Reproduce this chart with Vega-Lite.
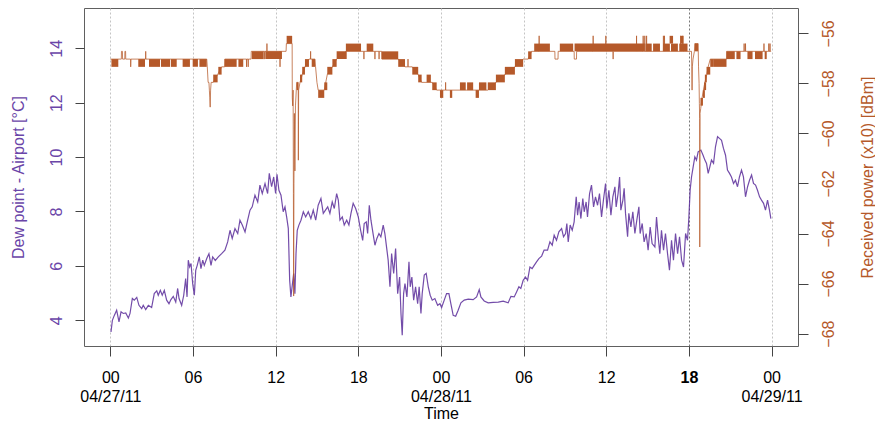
{
  "$schema": "https://vega.github.io/schema/vega-lite/v6.json",
  "width": 714,
  "height": 338,
  "autosize": {"type": "none"},
  "padding": {"left": 84, "top": 8, "right": 77, "bottom": 75},
  "background": "white",
  "config": {
    "font": "Liberation Sans",
    "view": {"stroke": "#606060", "strokeWidth": 1}
  },
  "datasets": {
    "dew": [
      {"h":0.05,"d":3.57},{"h":0.15,"d":4.0},{"h":0.29,"d":4.18},{"h":0.46,"d":4.37},{"h":0.63,"d":3.94},{"h":0.78,"d":4.31},{"h":0.94,"d":4.25},{"h":1.12,"d":4.27},{"h":1.31,"d":4.08},{"h":1.43,"d":4.25},
      {"h":1.6,"d":4.8},{"h":1.74,"d":4.74},{"h":1.92,"d":4.84},{"h":2.08,"d":4.55},{"h":2.28,"d":4.43},{"h":2.39,"d":4.55},{"h":2.57,"d":4.39},{"h":2.76,"d":4.55},{"h":3.0,"d":4.47},{"h":3.19,"d":4.98},
      {"h":3.37,"d":5.08},{"h":3.48,"d":4.92},{"h":3.63,"d":5.1},{"h":3.77,"d":4.92},{"h":3.92,"d":5.1},{"h":4.09,"d":4.74},{"h":4.26,"d":4.61},{"h":4.4,"d":4.76},{"h":4.57,"d":4.88},{"h":4.75,"d":4.67},
      {"h":4.89,"d":5.17},{"h":4.99,"d":4.8},{"h":5.18,"d":4.55},{"h":5.33,"d":4.92},{"h":5.47,"d":5.53},{"h":5.57,"d":4.86},{"h":5.66,"d":6.21},{"h":5.76,"d":5.96},{"h":5.86,"d":6.09},{"h":5.98,"d":5.35},
      {"h":6.1,"d":4.92},{"h":6.2,"d":5.84},{"h":6.31,"d":6.02},{"h":6.46,"d":6.33},{"h":6.58,"d":5.9},{"h":6.71,"d":6.21},{"h":6.82,"d":6.02},{"h":7.0,"d":6.27},{"h":7.16,"d":6.45},{"h":7.31,"d":6.02},
      {"h":7.43,"d":6.33},{"h":7.62,"d":6.2},{"h":7.84,"d":6.33},{"h":8.08,"d":6.45},{"h":8.32,"d":6.58},{"h":8.52,"d":6.88},{"h":8.69,"d":7.31},{"h":8.85,"d":7.01},{"h":9.05,"d":7.37},{"h":9.25,"d":7.19},
      {"h":9.41,"d":7.68},{"h":9.58,"d":7.5},{"h":9.78,"d":7.25},{"h":9.97,"d":7.68},{"h":10.14,"d":8.05},{"h":10.3,"d":8.17},{"h":10.5,"d":8.6},{"h":10.7,"d":8.35},{"h":10.86,"d":8.97},{"h":11.03,"d":8.66},
      {"h":11.23,"d":9.03},{"h":11.42,"d":8.66},{"h":11.54,"d":9.4},{"h":11.71,"d":8.91},{"h":11.86,"d":9.27},{"h":12.0,"d":8.66},{"h":12.1,"d":9.37},{"h":12.24,"d":8.78},{"h":12.39,"d":8.6},{"h":12.55,"d":7.99},
      {"h":12.68,"d":8.17},{"h":12.8,"d":7.8},{"h":12.92,"d":7.38},{"h":13.02,"d":5.47},{"h":13.11,"d":4.86},{"h":13.21,"d":5.29},{"h":13.31,"d":5.72},{"h":13.4,"d":4.98},{"h":13.48,"d":6.45},{"h":13.57,"d":7.31},
      {"h":13.69,"d":7.5},{"h":13.84,"d":7.68},{"h":14.01,"d":7.99},{"h":14.18,"d":7.8},{"h":14.37,"d":7.99},{"h":14.56,"d":7.74},{"h":14.73,"d":8.05},{"h":14.91,"d":7.68},{"h":15.09,"d":8.23},{"h":15.29,"d":8.48},
      {"h":15.46,"d":7.93},{"h":15.78,"d":8.17},{"h":15.94,"d":7.93},{"h":16.11,"d":8.35},{"h":16.26,"d":8.11},{"h":16.43,"d":8.66},{"h":16.55,"d":8.42},{"h":16.67,"d":7.68},{"h":16.84,"d":7.8},{"h":16.98,"d":7.5},
      {"h":17.16,"d":7.68},{"h":17.32,"d":7.5},{"h":17.47,"d":7.93},{"h":17.63,"d":8.3},{"h":17.81,"d":8.11},{"h":18.0,"d":7.8},{"h":18.17,"d":7.31},{"h":18.32,"d":6.94},{"h":18.43,"d":7.56},{"h":18.58,"d":7.62},
      {"h":18.68,"d":7.19},{"h":18.8,"d":8.23},{"h":18.92,"d":7.68},{"h":19.09,"d":7.13},{"h":19.21,"d":6.76},{"h":19.35,"d":7.01},{"h":19.5,"d":7.19},{"h":19.64,"d":7.07},{"h":19.81,"d":7.5},{"h":19.93,"d":7.19},
      {"h":20.08,"d":6.58},{"h":20.17,"d":6.21},{"h":20.3,"d":5.23},{"h":20.42,"d":6.45},{"h":20.57,"d":5.72},{"h":20.71,"d":6.64},{"h":20.86,"d":4.98},{"h":21.0,"d":5.59},{"h":21.1,"d":4.25},{"h":21.19,"d":3.45},
      {"h":21.29,"d":4.98},{"h":21.39,"d":5.35},{"h":21.53,"d":4.86},{"h":21.68,"d":6.15},{"h":21.77,"d":5.23},{"h":21.89,"d":5.59},{"h":22.02,"d":4.74},{"h":22.16,"d":5.23},{"h":22.31,"d":4.61},{"h":22.42,"d":5.23},
      {"h":22.55,"d":4.25},{"h":22.64,"d":4.98},{"h":22.79,"d":5.66},{"h":22.93,"d":5.72},{"h":23.08,"d":5.23},{"h":23.22,"d":4.92},{"h":23.37,"d":4.74},{"h":23.56,"d":4.8},{"h":23.76,"d":4.55},{"h":23.93,"d":4.61},
      {"h":24.05,"d":4.47},{"h":24.24,"d":4.74},{"h":24.41,"d":4.98},{"h":24.58,"d":4.98},{"h":24.72,"d":4.61},{"h":24.89,"d":4.18},{"h":25.07,"d":4.15},{"h":25.25,"d":4.37},{"h":25.45,"d":4.64},{"h":25.69,"d":4.74},
      {"h":25.98,"d":4.78},{"h":26.34,"d":4.76},{"h":26.59,"d":4.86},{"h":26.78,"d":5.13},{"h":26.9,"d":4.86},{"h":27.14,"d":4.71},{"h":27.43,"d":4.64},{"h":27.79,"d":4.66},{"h":28.16,"d":4.67},{"h":28.52,"d":4.7},
      {"h":28.88,"d":4.64},{"h":29.08,"d":4.88},{"h":29.32,"d":4.86},{"h":29.49,"d":5.04},{"h":29.66,"d":5.23},{"h":29.8,"d":5.17},{"h":29.97,"d":5.47},{"h":30.14,"d":5.59},{"h":30.29,"d":5.47},{"h":30.46,"d":5.96},
      {"h":30.62,"d":5.9},{"h":30.77,"d":6.02},{"h":30.94,"d":6.15},{"h":31.11,"d":6.27},{"h":31.31,"d":6.36},{"h":31.49,"d":6.58},{"h":31.74,"d":6.58},{"h":31.91,"d":6.88},{"h":32.08,"d":6.76},{"h":32.22,"d":7.13},
      {"h":32.39,"d":6.94},{"h":32.56,"d":7.25},{"h":32.76,"d":7.37},{"h":32.9,"d":7.07},{"h":33.05,"d":7.19},{"h":33.14,"d":7.56},{"h":33.24,"d":6.88},{"h":33.38,"d":7.5},{"h":33.53,"d":7.31},{"h":33.67,"d":7.62},
      {"h":33.82,"d":8.54},{"h":33.92,"d":7.86},{"h":34.03,"d":8.35},{"h":34.16,"d":7.74},{"h":34.3,"d":8.48},{"h":34.4,"d":7.99},{"h":34.54,"d":8.35},{"h":34.64,"d":7.8},{"h":34.79,"d":8.66},{"h":34.93,"d":8.97},
      {"h":35.08,"d":8.17},{"h":35.22,"d":8.54},{"h":35.37,"d":8.23},{"h":35.51,"d":8.66},{"h":35.66,"d":7.8},{"h":35.81,"d":8.48},{"h":35.95,"d":9.03},{"h":36.04,"d":8.11},{"h":36.19,"d":8.78},{"h":36.34,"d":7.86},
      {"h":36.48,"d":8.54},{"h":36.63,"d":8.91},{"h":36.72,"d":8.17},{"h":36.86,"d":8.66},{"h":36.97,"d":9.27},{"h":37.06,"d":8.05},{"h":37.21,"d":8.42},{"h":37.3,"d":8.85},{"h":37.4,"d":7.93},{"h":37.55,"d":7.07},
      {"h":37.64,"d":7.93},{"h":37.79,"d":7.43},{"h":37.93,"d":7.99},{"h":38.08,"d":7.19},{"h":38.22,"d":7.68},{"h":38.37,"d":8.17},{"h":38.46,"d":7.19},{"h":38.61,"d":7.56},{"h":38.75,"d":6.88},{"h":38.9,"d":7.19},
      {"h":39.04,"d":6.58},{"h":39.19,"d":7.43},{"h":39.33,"d":6.82},{"h":39.53,"d":6.7},{"h":39.65,"d":7.8},{"h":39.77,"d":7.07},{"h":39.89,"d":6.45},{"h":40.01,"d":7.31},{"h":40.16,"d":6.58},{"h":40.3,"d":7.19},
      {"h":40.45,"d":6.45},{"h":40.59,"d":5.84},{"h":40.74,"d":6.94},{"h":40.88,"d":6.21},{"h":41.03,"d":7.19},{"h":41.18,"d":6.45},{"h":41.32,"d":7.07},{"h":41.47,"d":6.21},{"h":41.61,"d":5.96},{"h":41.76,"d":7.19},
      {"h":41.9,"d":6.94},{"h":42.0,"d":7.8},{"h":42.09,"d":8.78},{"h":42.19,"d":9.27},{"h":42.31,"d":9.64},{"h":42.43,"d":10.01},{"h":42.55,"d":9.89},{"h":42.67,"d":10.19},{"h":42.87,"d":10.26},{"h":43.03,"d":10.07},
      {"h":43.16,"d":9.89},{"h":43.28,"d":9.77},{"h":43.4,"d":9.4},{"h":43.52,"d":9.64},{"h":43.64,"d":9.89},{"h":43.79,"d":9.77},{"h":43.93,"d":10.38},{"h":44.08,"d":10.75},{"h":44.22,"d":10.69},{"h":44.37,"d":10.62},
      {"h":44.51,"d":10.32},{"h":44.66,"d":10.07},{"h":44.8,"d":9.52},{"h":44.95,"d":9.4},{"h":45.09,"d":9.27},{"h":45.24,"d":9.03},{"h":45.38,"d":9.15},{"h":45.53,"d":8.91},{"h":45.67,"d":9.27},{"h":45.82,"d":9.52},
      {"h":45.96,"d":9.27},{"h":46.11,"d":8.54},{"h":46.26,"d":8.91},{"h":46.4,"d":9.15},{"h":46.55,"d":9.34},{"h":46.69,"d":9.03},{"h":46.84,"d":8.97},{"h":46.98,"d":8.78},{"h":47.13,"d":8.54},{"h":47.27,"d":8.42},
      {"h":47.42,"d":8.3},{"h":47.56,"d":8.05},{"h":47.71,"d":8.42},{"h":47.85,"d":8.05},{"h":47.95,"d":7.74}
    ],
    "pw": [
      {"h":0.0,"p":-57.03},{"h":0.8,"p":-57.03},{"h":0.81,"p":-56.72},{"h":0.88,"p":-56.72},{"h":0.89,"p":-57.03},{"h":1.05,"p":-57.03},{"h":1.06,"p":-56.72},{"h":1.11,"p":-56.72},{"h":1.12,"p":-57.03},{"h":1.47,"p":-57.03},
      {"h":1.48,"p":-57.34},{"h":1.5,"p":-57.03},{"h":2.56,"p":-57.03},{"h":2.57,"p":-56.72},{"h":2.58,"p":-57.03},{"h":7.0,"p":-57.03},{"h":7.04,"p":-57.34},{"h":7.1,"p":-57.96},{"h":7.16,"p":-57.96},{"h":7.19,"p":-58.27},
      {"h":7.22,"p":-58.58},{"h":7.25,"p":-58.95},{"h":7.28,"p":-58.27},{"h":7.32,"p":-57.96},{"h":7.47,"p":-57.96},{"h":7.79,"p":-57.65},{"h":8.08,"p":-57.34},{"h":8.3,"p":-57.34},{"h":8.31,"p":-57.03},{"h":9.88,"p":-57.03},
      {"h":9.89,"p":-57.34},{"h":9.9,"p":-57.03},{"h":10.0,"p":-57.03},{"h":10.01,"p":-57.34},{"h":10.02,"p":-57.03},{"h":10.22,"p":-57.03},{"h":10.23,"p":-56.72},{"h":11.17,"p":-56.72},{"h":11.18,"p":-57.03},{"h":11.2,"p":-56.72},
      {"h":11.36,"p":-56.72},{"h":11.37,"p":-56.41},{"h":11.38,"p":-56.72},{"h":12.31,"p":-56.72},{"h":12.32,"p":-57.34},{"h":12.33,"p":-56.72},{"h":12.76,"p":-56.72},{"h":12.78,"p":-56.41},{"h":13.2,"p":-56.41},{"h":13.21,"p":-58.58},
      {"h":13.24,"p":-58.9},{"h":13.27,"p":-58.27},{"h":13.29,"p":-62.4},{"h":13.31,"p":-66.5},{"h":13.33,"p":-62.0},{"h":13.36,"p":-59.2},{"h":13.4,"p":-61.5},{"h":13.44,"p":-58.9},{"h":13.5,"p":-58.27},{"h":13.53,"p":-57.96},
      {"h":13.64,"p":-57.96},{"h":13.65,"p":-61.07},{"h":13.67,"p":-58.27},{"h":13.77,"p":-57.96},{"h":13.93,"p":-57.65},{"h":14.13,"p":-57.34},{"h":14.42,"p":-57.03},{"h":14.53,"p":-57.03},{"h":14.54,"p":-56.72},{"h":14.55,"p":-57.03},
      {"h":14.86,"p":-57.03},{"h":14.9,"p":-57.34},{"h":15.0,"p":-57.96},{"h":15.09,"p":-58.27},{"h":15.53,"p":-58.27},{"h":15.75,"p":-57.65},{"h":16.12,"p":-57.34},{"h":16.43,"p":-57.03},{"h":17.1,"p":-56.72},{"h":18.4,"p":-56.72},
      {"h":18.41,"p":-57.03},{"h":18.42,"p":-56.72},{"h":19.2,"p":-56.72},{"h":19.21,"p":-57.03},{"h":19.22,"p":-56.72},{"h":19.5,"p":-56.72},{"h":19.51,"p":-57.03},{"h":19.52,"p":-56.72},{"h":19.7,"p":-56.72},{"h":19.71,"p":-57.03},
      {"h":20.9,"p":-57.03},{"h":21.39,"p":-57.34},{"h":21.6,"p":-57.34},{"h":21.61,"p":-57.03},{"h":21.62,"p":-57.34},{"h":21.92,"p":-57.34},{"h":22.35,"p":-57.65},{"h":22.6,"p":-57.96},{"h":23.37,"p":-57.96},{"h":23.69,"p":-58.27},
      {"h":24.33,"p":-58.27},{"h":24.34,"p":-57.96},{"h":24.35,"p":-58.27},{"h":27.4,"p":-58.27},{"h":27.99,"p":-57.96},{"h":28.64,"p":-57.65},{"h":29.37,"p":-57.34},{"h":29.97,"p":-57.03},{"h":30.33,"p":-57.03},{"h":30.58,"p":-56.72},
      {"h":31.12,"p":-56.72},{"h":31.13,"p":-56.1},{"h":31.14,"p":-56.72},{"h":32.27,"p":-56.72},{"h":32.28,"p":-57.03},{"h":32.5,"p":-57.03},{"h":32.51,"p":-56.72},{"h":33.67,"p":-56.72},{"h":33.68,"p":-57.03},{"h":33.84,"p":-57.03},
      {"h":33.85,"p":-56.72},{"h":35.04,"p":-56.72},{"h":35.05,"p":-56.1},{"h":35.06,"p":-56.72},{"h":35.96,"p":-56.72},{"h":35.97,"p":-56.1},{"h":35.98,"p":-56.72},{"h":36.49,"p":-56.72},{"h":36.5,"p":-57.03},{"h":36.51,"p":-56.72},
      {"h":38.19,"p":-56.72},{"h":38.2,"p":-56.1},{"h":38.21,"p":-56.72},{"h":38.67,"p":-56.72},{"h":38.68,"p":-56.1},{"h":38.7,"p":-56.72},{"h":38.79,"p":-56.72},{"h":38.8,"p":-56.1},{"h":38.81,"p":-56.72},{"h":38.92,"p":-56.72},
      {"h":38.93,"p":-56.1},{"h":38.94,"p":-56.72},{"h":40.14,"p":-56.72},{"h":40.15,"p":-56.1},{"h":40.16,"p":-56.72},{"h":40.22,"p":-56.72},{"h":40.23,"p":-56.1},{"h":40.24,"p":-56.72},{"h":41.39,"p":-56.72},{"h":41.4,"p":-56.1},
      {"h":41.41,"p":-56.72},{"h":41.55,"p":-56.72},{"h":41.56,"p":-56.1},{"h":41.57,"p":-56.72},{"h":42.19,"p":-56.72},{"h":42.21,"p":-57.34},{"h":42.23,"p":-58.27},{"h":42.25,"p":-57.34},{"h":42.3,"p":-57.03},{"h":42.4,"p":-56.72},
      {"h":42.43,"p":-56.41},{"h":42.67,"p":-56.41},{"h":42.7,"p":-57.34},{"h":42.74,"p":-58.0},{"h":42.76,"p":-58.8},{"h":42.78,"p":-59.4},{"h":42.79,"p":-64.54},{"h":42.81,"p":-59.2},{"h":42.86,"p":-59.0},{"h":42.95,"p":-58.6},
      {"h":43.05,"p":-58.27},{"h":43.16,"p":-57.96},{"h":43.3,"p":-57.65},{"h":43.4,"p":-57.34},{"h":43.55,"p":-57.03},{"h":44.73,"p":-57.03},{"h":44.74,"p":-56.72},{"h":46.0,"p":-56.72},{"h":46.01,"p":-56.41},{"h":46.02,"p":-56.72},
      {"h":46.1,"p":-56.72},{"h":46.11,"p":-56.41},{"h":46.12,"p":-56.72},{"h":47.44,"p":-56.72},{"h":47.45,"p":-56.41},{"h":47.46,"p":-56.72},{"h":47.79,"p":-56.72},{"h":47.8,"p":-56.41},{"h":47.81,"p":-56.72},{"h":47.88,"p":-56.72},
      {"h":47.89,"p":-56.41},{"h":47.9,"p":-56.72},{"h":47.97,"p":-56.72}
    ],
    "blk": [
      {"h0":0.08,"h1":0.58,"p0":-57.03,"p1":-57.34},{"h0":2.03,"h1":2.52,"p0":-57.03,"p1":-57.34},{"h0":2.81,"h1":3.61,"p0":-57.03,"p1":-57.34},{"h0":3.68,"h1":4.34,"p0":-57.03,"p1":-57.34},
      {"h0":4.4,"h1":4.82,"p0":-57.03,"p1":-57.34},{"h0":5.25,"h1":5.78,"p0":-57.03,"p1":-57.34},{"h0":5.98,"h1":6.36,"p0":-57.03,"p1":-57.34},{"h0":6.47,"h1":7.0,"p0":-57.03,"p1":-57.34},
      {"h0":7.47,"h1":7.79,"p0":-57.65,"p1":-57.96},{"h0":7.84,"h1":8.08,"p0":-57.34,"p1":-57.65},
      {"h0":8.3,"h1":9.17,"p0":-57.03,"p1":-57.34},{"h0":9.3,"h1":9.65,"p0":-57.03,"p1":-57.34},
      {"h0":10.28,"h1":11.13,"p0":-56.72,"p1":-57.03},{"h0":11.25,"h1":12.46,"p0":-56.72,"p1":-57.03},
      {"h0":12.8,"h1":13.2,"p0":-56.1,"p1":-56.41},
      {"h0":13.53,"h1":13.64,"p0":-57.96,"p1":-58.27},{"h0":13.77,"h1":13.93,"p0":-57.65,"p1":-57.96},{"h0":13.93,"h1":14.13,"p0":-57.34,"p1":-57.65},{"h0":14.13,"h1":14.42,"p0":-57.03,"p1":-57.34},{"h0":14.62,"h1":14.86,"p0":-57.03,"p1":-57.34},
      {"h0":15.09,"h1":15.53,"p0":-58.27,"p1":-58.58},{"h0":15.53,"h1":15.75,"p0":-57.96,"p1":-58.27},{"h0":15.75,"h1":16.12,"p0":-57.34,"p1":-57.65},{"h0":16.12,"h1":16.43,"p0":-57.03,"p1":-57.34},{"h0":16.43,"h1":17.16,"p0":-56.72,"p1":-57.03},
      {"h0":17.1,"h1":18.2,"p0":-56.41,"p1":-56.72},{"h0":18.61,"h1":19.09,"p0":-56.41,"p1":-56.72},
      {"h0":19.7,"h1":20.9,"p0":-56.72,"p1":-57.03},{"h0":20.9,"h1":21.39,"p0":-57.03,"p1":-57.34},
      {"h0":21.92,"h1":22.35,"p0":-57.34,"p1":-57.65},{"h0":22.35,"h1":22.6,"p0":-57.65,"p1":-57.96},{"h0":22.96,"h1":23.27,"p0":-57.65,"p1":-57.96},{"h0":23.37,"h1":23.69,"p0":-57.96,"p1":-58.27},
      {"h0":23.93,"h1":24.17,"p0":-58.27,"p1":-58.58},{"h0":24.65,"h1":24.82,"p0":-58.27,"p1":-58.58},
      {"h0":25.38,"h1":25.8,"p0":-57.96,"p1":-58.27},{"h0":25.9,"h1":26.34,"p0":-57.96,"p1":-58.27},{"h0":26.52,"h1":26.76,"p0":-58.27,"p1":-58.58},{"h0":26.76,"h1":27.3,"p0":-57.96,"p1":-58.27},{"h0":27.4,"h1":27.99,"p0":-57.96,"p1":-58.27},
      {"h0":27.99,"h1":28.64,"p0":-57.65,"p1":-57.96},{"h0":28.64,"h1":29.37,"p0":-57.34,"p1":-57.65},{"h0":29.37,"h1":29.97,"p0":-57.03,"p1":-57.34},{"h0":30.33,"h1":30.58,"p0":-56.72,"p1":-57.03},
      {"h0":30.77,"h1":31.91,"p0":-56.41,"p1":-56.72},{"h0":32.63,"h1":33.6,"p0":-56.41,"p1":-56.72},{"h0":33.7,"h1":38.8,"p0":-56.41,"p1":-56.72},{"h0":38.85,"h1":39.3,"p0":-56.41,"p1":-56.72},
      {"h0":39.4,"h1":39.9,"p0":-56.41,"p1":-56.72},{"h0":40.13,"h1":40.62,"p0":-56.41,"p1":-56.72},{"h0":40.7,"h1":41.2,"p0":-56.41,"p1":-56.72},{"h0":41.3,"h1":41.9,"p0":-56.41,"p1":-56.72},
      {"h0":40.6,"h1":40.85,"p0":-56.1,"p1":-56.41},{"h0":41.4,"h1":41.6,"p0":-56.1,"p1":-56.41},
      {"h0":42.43,"h1":42.67,"p0":-56.41,"p1":-56.72},
      {"h0":42.84,"h1":43.02,"p0":-58.58,"p1":-58.89},{"h0":43.02,"h1":43.16,"p0":-58.27,"p1":-58.58},{"h0":43.1,"h1":43.25,"p0":-57.96,"p1":-58.27},{"h0":43.16,"h1":43.3,"p0":-57.65,"p1":-57.96},
      {"h0":43.28,"h1":43.55,"p0":-57.34,"p1":-57.65},{"h0":43.55,"h1":43.76,"p0":-57.03,"p1":-57.34},{"h0":43.76,"h1":44.73,"p0":-57.03,"p1":-57.34},
      {"h0":44.73,"h1":45.33,"p0":-56.72,"p1":-57.03},{"h0":45.45,"h1":45.75,"p0":-56.72,"p1":-57.03},{"h0":46.25,"h1":46.62,"p0":-56.72,"p1":-57.03},{"h0":46.8,"h1":47.35,"p0":-56.72,"p1":-57.03},{"h0":47.5,"h1":47.65,"p0":-56.72,"p1":-57.03}
    ]
  },
  "resolve": {"scale": {"y": "independent"}},
  "layer": [
    {
      "data": {"name": "dew"},
      "mark": {"type": "line", "color": "#5a2d9a", "strokeWidth": 1.2, "opacity": 0.85, "clip": true},
      "encoding": {
        "x": {
          "field": "h", "type": "quantitative",
          "scale": {"domain": [-1.91, 49.92], "nice": false, "zero": false},
          "axis": {
            "orient": "bottom",
            "values": [0, 6, 12, 18, 24, 30, 36, 42, 48],
            "labelExpr": "datum.value == 0 ? ['00', '04/27/11'] : datum.value == 24 ? ['00', '04/28/11'] : datum.value == 48 ? ['00', '04/29/11'] : ((datum.value % 24) < 10 ? '0' : '') + (datum.value % 24)",
            "labelFontSize": 16,
            "labelColor": "#000000",
            "labelFontWeight": {"condition": {"test": "datum.value == 42", "value": "bold"}, "value": "normal"},
            "labelBaseline": "top",
            "labelLineHeight": 19.3,
            "labelPadding": 13,
            "labelFlush": false,
            "labelOverlap": false,
            "tickSize": 10,
            "tickColor": "#444444",
            "domain": false,
            "grid": true,
            "gridDash": [2, 2],
            "gridColor": {"condition": {"test": "datum.value == 42", "value": "#777777"}, "value": "#c4c4c4"},
            "gridWidth": 1,
            "title": "Time",
            "titleFontSize": 16,
            "titleFontWeight": "normal",
            "titleColor": "#000000",
            "titleBaseline": "top",
            "titleY": 59.5
          }
        },
        "y": {
          "field": "d", "type": "quantitative",
          "scale": {"domain": [3.054, 15.483], "nice": false, "zero": false},
          "axis": {
            "orient": "left",
            "values": [4, 6, 8, 10, 12, 14],
            "labelAngle": 270,
            "labelAlign": "center",
            "labelBaseline": "middle",
            "labelPadding": 19,
            "labelFontSize": 16,
            "labelColor": "#6a45a8",
            "tickSize": 9,
            "tickColor": "#444444",
            "domain": false,
            "grid": false,
            "title": "Dew point - Airport [°C]",
            "titleFontSize": 16,
            "titleFontWeight": "normal",
            "titleColor": "#6a45a8",
            "titleAngle": 270,
            "titleAlign": "center",
            "titleBaseline": "middle",
            "titleX": -66,
            "titleY": 169
          }
        }
      }
    },
    {
      "layer": [
        {
          "data": {"name": "blk"},
          "mark": {"type": "rect", "color": "#b5592a", "opacity": 1, "clip": true},
          "encoding": {
            "x": {"field": "h0", "type": "quantitative"},
            "x2": {"field": "h1"},
            "y": {
              "field": "p0", "type": "quantitative",
              "scale": {"domain": [-68.496, -54.988], "nice": false, "zero": false}
            },
            "y2": {"field": "p1"}
          }
        },
        {
          "data": {"name": "pw"},
          "mark": {"type": "line", "color": "#b5592a", "strokeWidth": 1, "opacity": 0.75, "clip": true},
          "encoding": {
            "x": {"field": "h", "type": "quantitative"},
            "y": {
              "field": "p", "type": "quantitative",
              "scale": {"domain": [-68.496, -54.988], "nice": false, "zero": false},
              "axis": {
                "orient": "right",
                "values": [-68, -66, -64, -62, -60, -58, -56],
                "labelAngle": 270,
                "labelAlign": "center",
                "labelBaseline": "middle",
                "labelPadding": 20,
                "labelFontSize": 16,
                "labelColor": "#b5592a",
                "tickSize": 10,
                "tickColor": "#444444",
                "domain": false,
                "grid": false,
                "title": "Received power (x10) [dBm]",
                "titleFontSize": 16,
                "titleFontWeight": "normal",
                "titleColor": "#b5592a",
                "titleAngle": 270,
                "titleAlign": "center",
                "titleBaseline": "middle",
                "titleX": 69,
                "titleY": 169
              }
            }
          }
        }
      ]
    }
  ]
}
